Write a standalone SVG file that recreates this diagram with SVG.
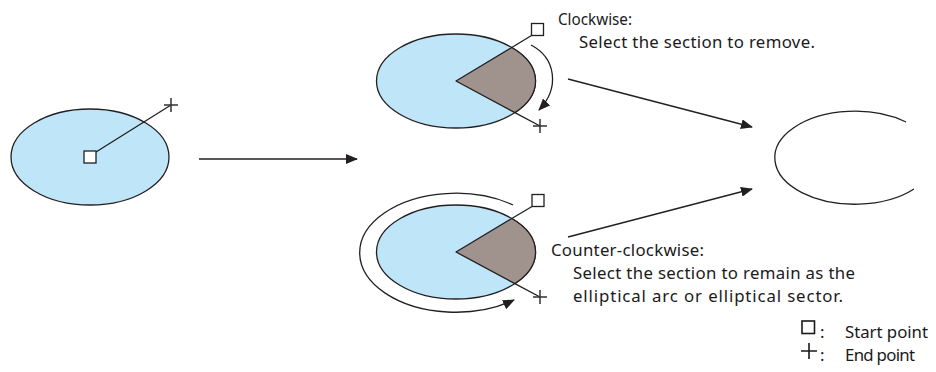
<svg xmlns="http://www.w3.org/2000/svg" width="936" height="372" viewBox="0 0 936 372">
<defs>
<style>
.ell{fill:#bee5f8;stroke:#231f20;stroke-width:1.3}
.sec{fill:#a0938e;stroke:#231f20;stroke-width:1.3;stroke-linejoin:round}
.ln{fill:none;stroke:#231f20;stroke-width:1.3}
.sq{fill:#fff;stroke:#231f20;stroke-width:1.3}
.pl{fill:none;stroke:#333;stroke-width:1.5}
.arr{fill:none;stroke:#231f20;stroke-width:1.3;marker-end:url(#ah)}
text{font-family:"Noto Sans","Open Sans","Liberation Sans",sans-serif;font-size:16.8px;fill:#1a1a1a}
</style>
<marker id="ah" viewBox="0 0 12 10" refX="11" refY="5" markerWidth="12" markerHeight="10" markerUnits="userSpaceOnUse" orient="auto">
<path d="M0,0 L12,5 L0,10 Z" fill="#231f20"/>
</marker>
</defs>

<g id="source">
<ellipse class="ell" cx="90" cy="157" rx="79" ry="48"/>
<line class="ln" x1="96" y1="152" x2="171" y2="105"/>
<rect class="sq" x="84" y="151" width="12" height="12"/>
<path class="pl" d="M164,105 H178 M171,98 V112"/>
</g>

<g id="clockwise">
<ellipse class="ell" cx="456" cy="81" rx="79.5" ry="47"/>
<path class="sec" d="M456,81 L511.8,47.5 A79.5 47 0 0 1 514.9,112.6 Z"/>
<line class="ln" x1="511.8" y1="47.5" x2="531.5" y2="35.5"/>
<line class="ln" x1="514.9" y1="112.6" x2="540" y2="126"/>
<rect class="sq" x="531.5" y="23.5" width="12" height="12"/>
<path class="pl" d="M533,126 H547 M540,119 V133"/>
<path class="arr" d="M531,45 C556,58 560,88 539,110"/>
</g>

<g id="counter-clockwise">
<ellipse class="ell" cx="456" cy="252" rx="79.5" ry="47"/>
<path class="sec" d="M456,252 L511.8,218.5 A79.5 47 0 0 1 514.9,283.6 Z"/>
<line class="ln" x1="511.8" y1="218.5" x2="532" y2="206.5"/>
<line class="ln" x1="514.9" y1="283.6" x2="540" y2="297"/>
<rect class="sq" x="532" y="194.5" width="12" height="12"/>
<path class="pl" d="M533,297 H547 M540,290 V304"/>
<path class="arr" d="M513,205 A96 59.5 0 1 0 514,300"/>
</g>

<g id="result">
<path class="ln" d="M906,122 A80 46.5 0 1 0 914,189"/>
</g>

<g id="connectors">
<line class="arr" x1="199" y1="159" x2="357" y2="159"/>
<line class="arr" x1="568" y1="79" x2="752" y2="127"/>
<line class="arr" x1="568" y1="237" x2="752" y2="189"/>
</g>

<g id="labels">
<text x="558" y="25" textLength="74" lengthAdjust="spacingAndGlyphs">Clockwise:</text>
<text x="579" y="48" textLength="236" lengthAdjust="spacing">Select the section to remove.</text>
<text x="551" y="256" textLength="153" lengthAdjust="spacing">Counter-clockwise:</text>
<text x="573" y="279" textLength="282" lengthAdjust="spacing">Select the section to remain as the</text>
<text x="573" y="302" textLength="270" lengthAdjust="spacing">elliptical arc or elliptical sector.</text>
</g>

<g id="legend">
<rect x="802" y="321" width="12.5" height="12.5" fill="#fff" stroke="#1a1a1a" stroke-width="1.6"/>
<text x="820" y="338">:</text>
<text x="845" y="338" textLength="83" lengthAdjust="spacing">Start point</text>
<path d="M801,351 H817 M809,343 V359" fill="none" stroke="#1a1a1a" stroke-width="1.6"/>
<text x="820" y="361">:</text>
<text x="845" y="361" textLength="70" lengthAdjust="spacing">End point</text>
</g>
</svg>
